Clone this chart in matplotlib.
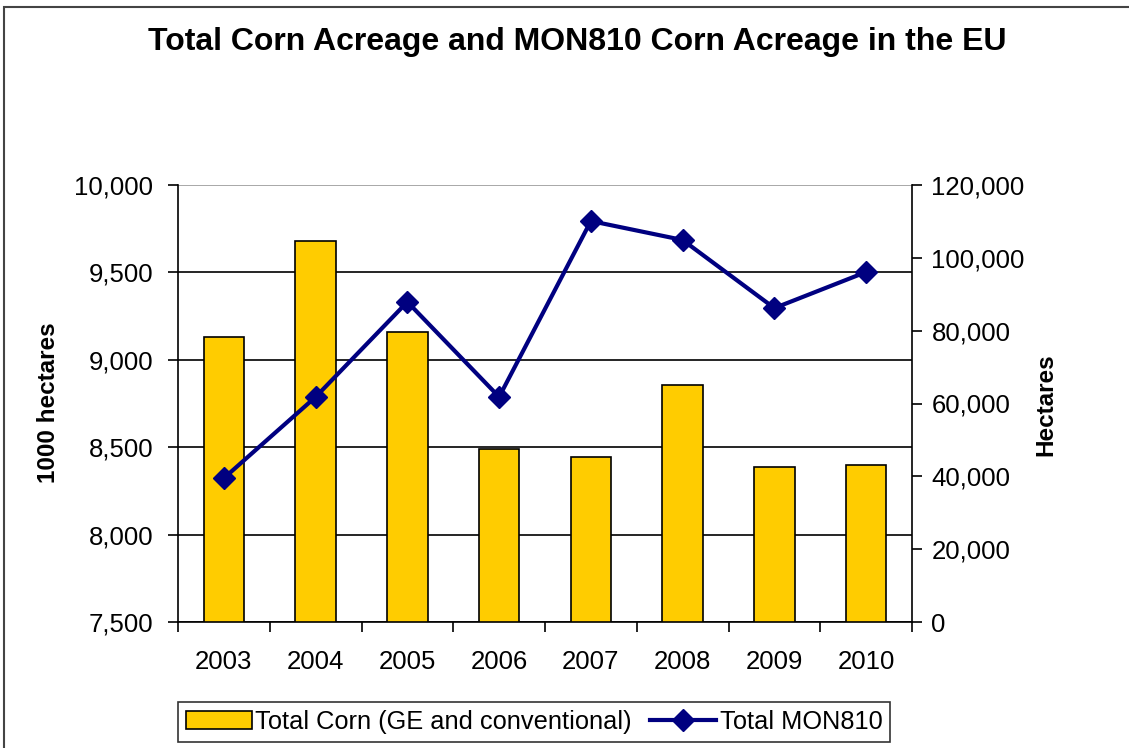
import matplotlib.pyplot as plt
from matplotlib.patches import Rectangle
from matplotlib.ticker import FuncFormatter

plt.rcParams['font.family'] = ['Liberation Sans', 'DejaVu Sans']

years = ['2003', '2004', '2005', '2006', '2007', '2008', '2009', '2010']
total_corn = [9128, 9677, 9157, 8490, 8445, 8854, 8386, 8399]   # 1000 hectares
mon810 = [39500, 61800, 87900, 61800, 110100, 104900, 86200, 96100]  # hectares

fig = plt.figure(figsize=(11.29, 7.48), dpi=100)
ax = fig.add_axes([178 / 1129, 1 - 622 / 748, (912 - 178) / 1129, (622 - 185) / 748])

x = list(range(len(years)))
ax.bar(x, total_corn, width=0.44, color='#FFCC00', edgecolor='black', linewidth=1.2,
       label='Total Corn (GE and conventional)', zorder=2)
ax.set_ylim(7500, 10000)
ax.set_yticks(range(7500, 10001, 500))
ax.yaxis.set_major_formatter(FuncFormatter(lambda v, p: f'{int(v):,}'))
ax.yaxis.grid(True, color='black', linewidth=1.2)
ax.set_axisbelow(True)
ax.set_xlim(-0.5, len(years) - 0.5)
ax.set_xticks([i - 0.5 for i in range(len(years) + 1)])
ax.set_xticklabels([])
ax.set_xticks(x, minor=True)
ax.set_xticklabels(years, minor=True)
ax.tick_params(axis='x', which='major', direction='out', length=7, width=1.2)
ax.tick_params(axis='x', which='minor', length=0, pad=20, labelsize=18.5)
ax.tick_params(axis='y', direction='out', length=7, width=1.2, labelsize=18.5, pad=11)
for s in ['top', 'right']:
    ax.spines[s].set_visible(False)
for s in ['left', 'bottom']:
    ax.spines[s].set_linewidth(1.2)

ax2 = ax.twinx()
ax2.plot(x, mon810, color='#000080', linewidth=3, marker='D', markersize=11,
         label='Total MON810', zorder=3)
ax2.set_ylim(0, 120000)
ax2.set_yticks(range(0, 120001, 20000))
ax2.yaxis.set_major_formatter(FuncFormatter(lambda v, p: f'{int(v):,}'))
ax2.tick_params(axis='y', direction='out', length=7, width=1.2, labelsize=18.5, pad=7)
for s in ['top', 'left', 'bottom']:
    ax2.spines[s].set_visible(False)
ax2.spines['right'].set_linewidth(1.2)

fig.canvas.draw()
ax.get_ygridlines()[-1].set_color('#999999')

fig.text(49 / 1129, 1 - 403 / 748, '1000 hectares', rotation=90, ha='center', va='center',
         fontsize=17.5, fontweight='bold')
fig.text(1046 / 1129, 1 - 405 / 748, 'Hectares', rotation=90, ha='center', va='center',
         fontsize=17.5, fontweight='bold')
fig.text(577 / 1129, 1 - 42 / 748, 'Total Corn Acreage and MON810 Corn Acreage in the EU',
         ha='center', va='center', fontsize=23, fontweight='bold')

h1, l1 = ax.get_legend_handles_labels()
h2, l2 = ax2.get_legend_handles_labels()
leg = fig.legend(h1 + h2, l1 + l2, loc='center', bbox_to_anchor=(534 / 1129, 1 - 722 / 748),
                 ncol=2, fontsize=18.3, frameon=True, fancybox=False, edgecolor='black',
                 handlelength=2.6, handletextpad=0.15, columnspacing=0.7, borderpad=0.3,
                 borderaxespad=0)
leg.get_frame().set_linewidth(1.2)

fig.patches.append(Rectangle((4 / 1129, -0.1), 1.2, 1 - 7 / 748 + 0.1, transform=fig.transFigure,
                             fill=False, edgecolor='#444444', linewidth=1.5))

fig.savefig('out.png', dpi=100)
